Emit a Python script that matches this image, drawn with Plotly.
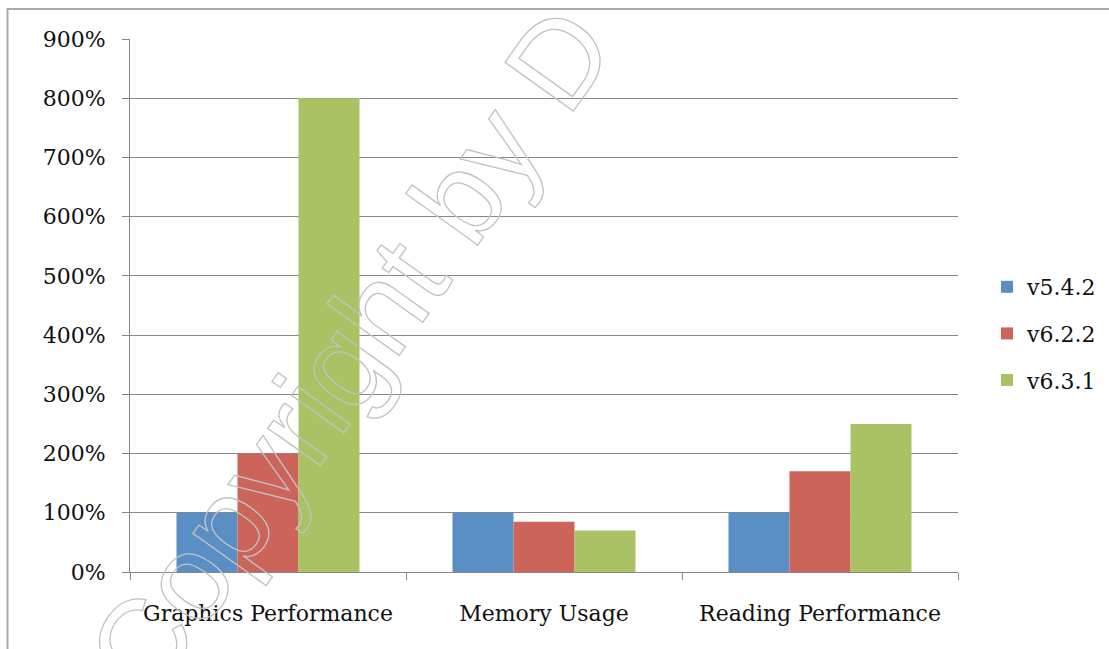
import plotly.graph_objects as go

# Relative results per benchmark (v5.4.2 = 100%)
categories = ["Graphics Performance", "Memory Usage", "Reading Performance"]
versions = ["v5.4.2", "v6.2.2", "v6.3.1"]
v542 = [100, 100, 100]
v622 = [200, 85, 170]
v631 = [800, 70, 250]
y_ticks = [0, 100, 200, 300, 400, 500, 600, 700, 800, 900]
y_tick_labels = [f"{v}%" for v in y_ticks]

colors = ["#5A8FC6", "#CC6459", "#AAC264"]
series = [v542, v622, v631]

W, H = 1109, 649
ML, MR, MT, MB = 130, 151, 39, 77
PW, PH = W - ML - MR, H - MT - MB


def px_x(p):
    return (p - ML) / PW


def px_y(p):
    return 1 - (p - MT) / PH


FONT = "DejaVu Serif"
FS = 22
TXT = "#111111"

fig = go.Figure()
for name, vals, col in zip(versions, series, colors):
    fig.add_trace(go.Bar(
        x=categories, y=vals, name=name,
        marker=dict(color=col, line=dict(width=0)),
        legendgroup=name,
    ))

fig.update_layout(
    width=W, height=H,
    margin=dict(l=ML, r=MR, t=MT, b=MB),
    paper_bgcolor="white", plot_bgcolor="white",
    barmode="group", bargap=0.337, bargroupgap=0,
    font=dict(family=FONT, size=FS, color=TXT),
    showlegend=True,
    legend=dict(
        xref="container", yref="container",
        x=987 / W, y=1 - 266 / H, xanchor="left", yanchor="top",
        font=dict(family=FONT, size=FS, color=TXT),
        tracegroupgap=15, itemwidth=30,
        bgcolor="rgba(0,0,0,0)",
    ),
    xaxis=dict(
        type="category", tickson="boundaries",
        ticks="outside", ticklen=7, tickcolor="#868686", tickwidth=1,
        showline=True, linecolor="#868686", linewidth=1,
        showgrid=False, ticklabelstandoff=22,
        tickfont=dict(family=FONT, size=FS, color=TXT),
    ),
    yaxis=dict(
        range=[0, 900], tickmode="array", tickvals=y_ticks, ticktext=y_tick_labels,
        ticks="outside", ticklen=7, tickcolor="#868686", tickwidth=1,
        showline=True, linecolor="#868686", linewidth=1,
        showgrid=True, gridcolor="#888888", gridwidth=1,
        zeroline=False, ticklabelstandoff=12,
        tickfont=dict(family=FONT, size=FS, color=TXT),
    ),
    shapes=[dict(
        type="rect", xref="paper", yref="paper",
        x0=px_x(7.5), x1=px_x(W + 20), y0=px_y(H + 20), y1=px_y(9),
        line=dict(color="#a9a9a9", width=2), fillcolor="rgba(0,0,0,0)",
        layer="below",
    )],
    annotations=[dict(
        text="Copyright by D", xref="paper", yref="paper",
        x=px_x(350), y=px_y(352), xanchor="center", yanchor="middle",
        textangle=-54.5, showarrow=False,
        font=dict(family="Liberation Sans", size=122, color="#c4c4c4"),
    )],
)

# Draw the watermark as an outline only
outline_js = (
    "document.querySelectorAll('.annotation-text').forEach(function(t){"
    "t.style.fill='none';t.style.stroke='#c2c2c2';t.style.strokeWidth='1.3px';});"
)
fig.write_html("out.html", post_script=outline_js)
